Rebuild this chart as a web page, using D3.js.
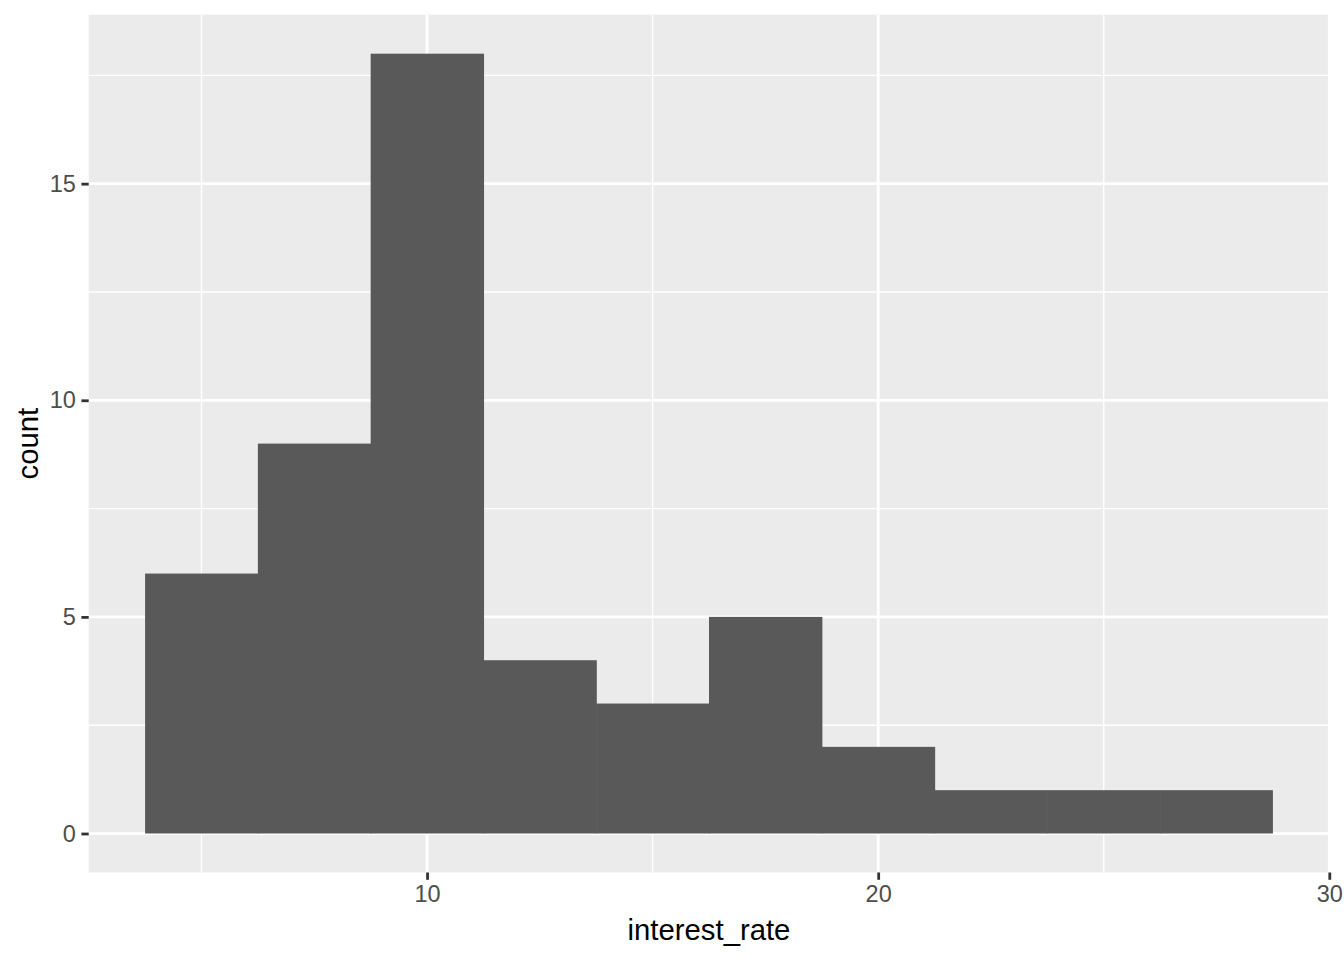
<!DOCTYPE html>
<html><head><meta charset="utf-8">
<script src="https://cdn.jsdelivr.net/npm/d3@7"></script>
<style>body{margin:0;background:#fff}svg{display:block}text{font-family:"Liberation Sans",Arial,sans-serif}</style>
</head><body>
<svg id="c" width="1344" height="960"></svg>
<script>
const binEdges = [3.75, 6.25, 8.75, 11.25, 13.75, 16.25, 18.75, 21.25, 23.75, 26.25, 28.75];
const counts = [6, 9, 18, 4, 3, 5, 2, 1, 1, 1];
const xTicks = [10, 20, 30];
const xMinor = [5, 15, 25];
const yTicks = [0, 5, 10, 15];
const yMinor = [2.5, 7.5, 12.5, 17.5];
const xLabel = "interest_rate";
const yLabel = "count";

const W = 1344, H = 960;
const L = 88.7, R = 1329.3, T = 14.7, B = 872.5;
const svg = d3.select("#c");
const xr = [binEdges[0], binEdges[binEdges.length-1]];
const xe = (xr[1]-xr[0])*0.05;
const ymax = d3.max(counts);
const x = d3.scaleLinear().domain([xr[0]-xe, xr[1]+xe]).range([L, R]);
const y = d3.scaleLinear().domain([-ymax*0.05, ymax*1.05]).range([B, T]);

svg.append("rect").attr("x", L).attr("y", T).attr("width", R-L).attr("height", B-T).attr("fill", "#EBEBEB");
const g = svg.append("g");
xMinor.forEach(v => g.append("line").attr("x1", x(v)).attr("x2", x(v)).attr("y1", T).attr("y2", B).attr("stroke", "#fff").attr("stroke-width", 1.4));
yMinor.forEach(v => g.append("line").attr("y1", y(v)).attr("y2", y(v)).attr("x1", L).attr("x2", R).attr("stroke", "#fff").attr("stroke-width", 1.4));
xTicks.forEach(v => g.append("line").attr("x1", x(v)).attr("x2", x(v)).attr("y1", T).attr("y2", B).attr("stroke", "#fff").attr("stroke-width", 2.8));
yTicks.forEach(v => g.append("line").attr("y1", y(v)).attr("y2", y(v)).attr("x1", L).attr("x2", R).attr("stroke", "#fff").attr("stroke-width", 2.8));

svg.append("g").selectAll("rect").data(counts).join("rect")
  .attr("x", (d,i) => x(binEdges[i]))
  .attr("width", (d,i) => x(binEdges[i+1]) - x(binEdges[i]) + (i < counts.length-1 ? 0.6 : 0))
  .attr("y", d => y(d))
  .attr("height", d => y(0) - y(d))
  .attr("fill", "#595959");

const xAxis = svg.append("g").attr("transform", `translate(0,${B})`)
  .call(d3.axisBottom(x).tickValues(xTicks).tickSize(7.3).tickPadding(5.5).tickFormat(d3.format("d")));
const yAxis = svg.append("g").attr("transform", `translate(${L},0)`)
  .call(d3.axisLeft(y).tickValues(yTicks).tickSize(7.3).tickPadding(5.5).tickFormat(d3.format("d")));
[xAxis, yAxis].forEach(a => {
  a.select(".domain").remove();
  a.selectAll(".tick line").attr("stroke", "#333333").attr("stroke-width", 2.8);
  a.selectAll(".tick text").attr("fill", "#4D4D4D").style("font-size", "23.5px").style("font-family", "'Liberation Sans',Arial,sans-serif");
});

svg.append("text").attr("x", (L+R)/2).attr("y", 940).attr("text-anchor", "middle")
  .style("font-size", "29.3px").attr("fill", "#000").text(xLabel);
svg.append("text").attr("transform", `translate(38,${(T+B)/2}) rotate(-90)`).attr("text-anchor", "middle")
  .style("font-size", "29.3px").attr("fill", "#000").text(yLabel);
</script>
</body></html>
